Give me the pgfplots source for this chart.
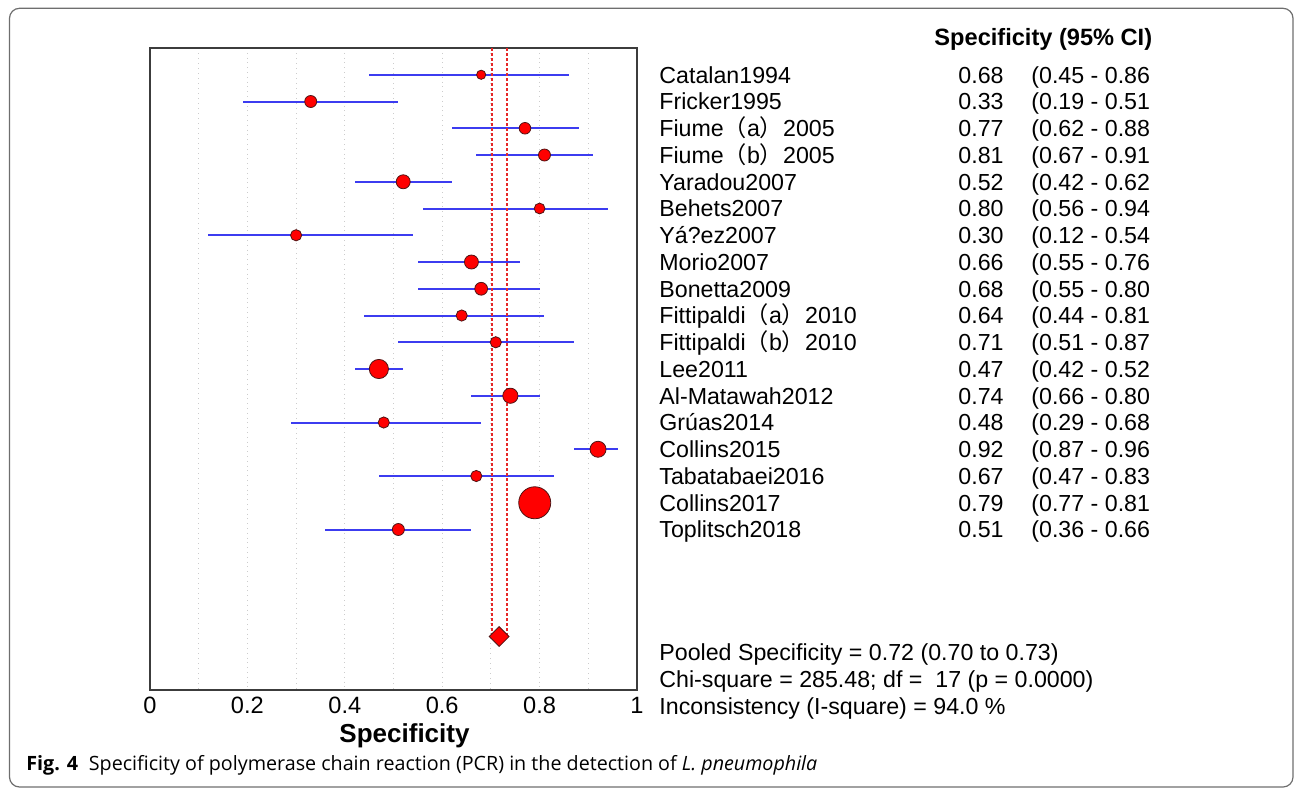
\documentclass[border=0pt]{standalone}
\usepackage{pgfplots}
\pgfplotsset{compat=1.18}
\usepackage{pgfplotstable}
\usepackage{fontspec}
\setmainfont{Liberation Sans}
\newfontfamily\cjk{Noto Sans CJK SC}
\newfontfamily\capfont{Open Sans}
\definecolor{circedge}{RGB}{80,20,20}
\definecolor{blueline}{RGB}{60,60,240}
\definecolor{dashred}{RGB}{230,40,40}
\definecolor{framegray}{RGB}{110,110,110}
\definecolor{axisgray}{RGB}{60,60,60}

\pgfplotstableread{
row x lo hi r
1 0.68 0.45 0.86 2.3
2 0.33 0.19 0.51 3.0
3 0.77 0.62 0.88 2.9
4 0.81 0.67 0.91 3.0
5 0.52 0.42 0.62 3.5
6 0.80 0.56 0.94 2.7
7 0.30 0.12 0.54 2.8
8 0.66 0.55 0.76 3.5
9 0.68 0.55 0.80 3.2
10 0.64 0.44 0.81 2.8
11 0.71 0.51 0.87 2.8
12 0.47 0.42 0.52 4.8
13 0.74 0.66 0.80 3.8
14 0.48 0.29 0.68 2.8
15 0.92 0.87 0.96 4.0
16 0.67 0.47 0.83 2.8
17 0.79 0.77 0.81 8.0
18 0.51 0.36 0.66 3.0
}\studies

\newcommand\studyrow[4]{%
  \node[anchor=mid west, inner sep=0pt, yshift=-1.5pt] at (axis cs:1.0452,#1) {#2};
  \node[anchor=mid east, inner sep=0pt, yshift=-1.5pt] at (axis cs:1.7536,#1) {#3};
  \node[anchor=mid west, inner sep=0pt, yshift=-1.5pt] at (axis cs:1.809,#1) {#4};
}

\begin{document}
\begin{tikzpicture}[font=\fontsize{11.6}{13.9}\selectfont]
\begin{axis}[
  scale only axis,
  width=243.5pt, height=321pt,
  xmin=0, xmax=1, ymin=0, ymax=24,
  y dir=reverse,
  ytick=\empty,
  xtick={0,0.2,0.4,0.6,0.8,1},
  xticklabels={0,0.2,0.4,0.6,0.8,1},
  minor xtick={0.1,0.3,0.5,0.7,0.9},
  xmajorgrids, xminorgrids,
  grid style={draw=black!20, dotted, line width=0.5pt},
  minor grid style={draw=black!20, dotted, line width=0.5pt},
  major tick length=0pt, minor tick length=0pt,
  axis line style={draw=axisgray, line width=0.6pt},
  tick label style={font=\fontsize{11.8}{14}\selectfont},
  /pgf/number format/assume math mode=true,
  clip=false,
]
% study estimates (circle size = weight)
\addplot[scatter, only marks, mark=*,
  scatter/use mapped color={draw=circedge, fill=red},
  mark options={line width=0.4pt},
  visualization depends on={\thisrow{r} \as \msize},
  scatter/@pre marker code/.append style={/tikz/mark size=\msize pt}]
  table[x=x, y=row] {\studies};
% 95% CI lines
\addplot[blueline, mark=none, draw opacity=0,
  error bars/.cd, x dir=both, x explicit, error mark=none,
  error bar style={draw=blueline, draw opacity=1, solid, line width=1pt}]
  table[x=x, y=row,
    x error plus expr=\thisrow{hi}-\thisrow{x},
    x error minus expr=\thisrow{x}-\thisrow{lo}] {\studies};
% pooled CI dashed lines
\addplot[dashred, line width=0.7pt, dash pattern=on 1.5pt off 1pt] coordinates {(0.702,0) (0.702,22)};
\addplot[dashred, line width=0.7pt, dash pattern=on 1.5pt off 1pt] coordinates {(0.733,0) (0.733,22)};
% pooled diamond
\addplot[only marks, mark=square*, mark size=3.5pt,
  mark options={rotate=45, fill=red, draw=circedge, line width=0.4pt}]
  coordinates {(0.717,22)};

% header
\node[anchor=mid west, inner sep=0pt, yshift=-1.5pt, font=\fontsize{11.8}{14}\bfseries] at (axis cs:1.610,-0.41) {Specificity (95\% CI)};
\studyrow{1}{Catalan1994}{0.68}{(0.45 - 0.86}
\studyrow{2}{Fricker1995}{0.33}{(0.19 - 0.51}
\studyrow{3}{Fiume{\cjk（}a{\cjk）}2005}{0.77}{(0.62 - 0.88}
\studyrow{4}{Fiume{\cjk（}b{\cjk）}2005}{0.81}{(0.67 - 0.91}
\studyrow{5}{Yaradou2007}{0.52}{(0.42 - 0.62}
\studyrow{6}{Behets2007}{0.80}{(0.56 - 0.94}
\studyrow{7}{Yá?ez2007}{0.30}{(0.12 - 0.54}
\studyrow{8}{Morio2007}{0.66}{(0.55 - 0.76}
\studyrow{9}{Bonetta2009}{0.68}{(0.55 - 0.80}
\studyrow{10}{Fittipaldi{\cjk（}a{\cjk）}2010}{0.64}{(0.44 - 0.81}
\studyrow{11}{Fittipaldi{\cjk（}b{\cjk）}2010}{0.71}{(0.51 - 0.87}
\studyrow{12}{Lee2011}{0.47}{(0.42 - 0.52}
\studyrow{13}{Al-Matawah2012}{0.74}{(0.66 - 0.80}
\studyrow{14}{Grúas2014}{0.48}{(0.29 - 0.68}
\studyrow{15}{Collins2015}{0.92}{(0.87 - 0.96}
\studyrow{16}{Tabatabaei2016}{0.67}{(0.47 - 0.83}
\studyrow{17}{Collins2017}{0.79}{(0.77 - 0.81}
\studyrow{18}{Toplitsch2018}{0.51}{(0.36 - 0.66}
% statistics
\node[anchor=mid west, inner sep=0pt, yshift=-1.5pt] at (axis cs:1.0452,22.58) {Pooled Specificity = 0.72 (0.70 to 0.73)};
\node[anchor=mid west, inner sep=0pt, yshift=-1.5pt] at (axis cs:1.0452,23.59) {Chi-square = 285.48; df = \ 17 (p = 0.0000)};
\node[anchor=mid west, inner sep=0pt, yshift=-1.5pt] at (axis cs:1.0452,24.60) {Inconsistency (I-square) = 94.0 \%};
% x label
\node[anchor=mid, inner sep=0pt, yshift=-2pt, font=\fontsize{13}{15}\bfseries] at (axis cs:0.5226,25.6) {Specificity};
\end{axis}
% caption
\node[anchor=mid west, inner sep=0pt, font=\capfont\fontsize{9.85}{11}\selectfont] at (-62pt,-37.5pt)
  {\textbf{Fig. 4}\hspace{0.55em}Specificity of polymerase chain reaction (PCR) in the detection of \textit{L. pneumophila}};
% outer frame
\draw[framegray, line width=0.6pt, rounded corners=5pt] (-70.25pt,-48.5pt) rectangle (571.5pt,340.85pt);
\path (-75pt,-49.5pt) rectangle (572.5pt,345pt);
\end{tikzpicture}
\end{document}
